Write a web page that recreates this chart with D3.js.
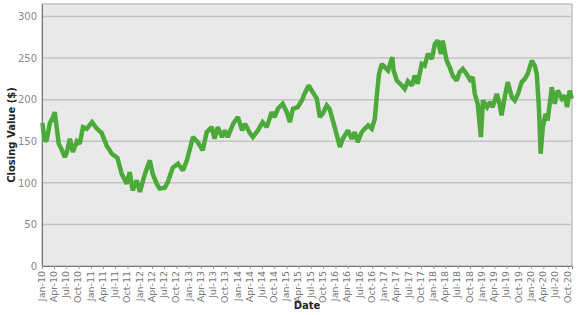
<!DOCTYPE html>
<html lang="en">
    <head>
        <meta charset="utf-8">
        <title>Closing Value</title>
        <script type="text/javascript" src="https://cdn.jsdelivr.net/npm/d3@7"></script>
        <style type="text/css">
            body { margin: 0; background: #fff; }
            text { font-family: "DejaVu Sans", Verdana, sans-serif; }
        </style>
    </head>
    <body>
        <script type="text/javascript">

            //Width and height
            var w = 577;
            var h = 315;
            var margin = { top: 4, right: 5, bottom: 49, left: 42 };

            //Readings of the closing value, roughly every few weeks
            var dates = [
                "2010-01-04","2010-01-15","2010-01-22","2010-02-06","2010-03-01","2010-03-22","2010-04-06","2010-04-22",
                "2010-05-06","2010-05-28","2010-06-20","2010-07-04","2010-07-28","2010-08-19","2010-09-19","2010-10-10",
                "2010-11-03","2010-12-01","2011-01-10","2011-02-15","2011-03-22","2011-04-28","2011-06-06","2011-07-18",
                "2011-08-19","2011-09-25","2011-10-18","2011-11-09","2011-12-09","2012-01-02","2012-02-09","2012-03-16",
                "2012-04-06","2012-05-06","2012-05-28","2012-07-06","2012-07-28","2012-09-03","2012-10-12","2012-11-18",
                "2012-12-18","2013-02-01","2013-03-09","2013-04-15","2013-05-15","2013-06-21","2013-07-12","2013-08-06",
                "2013-09-06","2013-09-28","2013-10-19","2013-11-28","2014-01-03","2014-02-03","2014-02-25","2014-04-01",
                "2014-04-24","2014-06-01","2014-07-06","2014-08-06","2014-09-12","2014-10-03","2014-10-28","2014-12-03",
                "2015-01-03","2015-01-25","2015-02-18","2015-03-25","2015-04-25","2015-05-15","2015-06-15","2015-07-15",
                "2015-08-15","2015-09-06","2015-09-28","2015-10-28","2015-11-18","2015-12-12","2016-01-12","2016-02-03",
                "2016-02-25","2016-04-03","2016-05-01","2016-05-24","2016-06-15","2016-07-15","2016-08-06","2016-09-01",
                "2016-09-28","2016-10-21","2016-11-06","2016-11-21","2016-12-12","2017-01-03","2017-01-28","2017-02-28",
                "2017-03-10","2017-04-03","2017-05-10","2017-06-01","2017-06-25","2017-07-25","2017-08-15","2017-09-06",
                "2017-10-06","2017-10-28","2017-11-21","2017-12-21","2018-01-12","2018-02-03","2018-02-27","2018-03-12",
                "2018-04-10","2018-05-03","2018-05-25","2018-06-25","2018-07-15","2018-08-09","2018-09-06","2018-10-01",
                "2018-10-22","2018-11-06","2018-11-28","2018-12-22","2019-01-06","2019-02-06","2019-02-28","2019-03-20",
                "2019-04-20","2019-05-10","2019-05-25","2019-06-18","2019-07-10","2019-08-10","2019-09-01","2019-09-25",
                "2019-10-22","2019-11-15","2019-12-06","2020-01-06","2020-01-28","2020-02-12","2020-02-28","2020-03-12",
                "2020-03-28","2020-04-18","2020-05-03","2020-06-03","2020-06-25","2020-07-18","2020-08-18","2020-09-09",
                "2020-09-25","2020-10-15","2020-10-30"
            ];
            var closes = [
                172, 158, 150, 152, 172, 178, 185, 165,
                147, 140, 131, 136, 153, 137, 150, 147,
                167, 165, 173, 165, 160, 145, 135, 130,
                111, 99, 113, 91, 103, 89, 111, 127,
                111, 99, 93, 94, 101, 118, 123, 115,
                127, 155, 149, 139, 161, 167, 153, 167,
                155, 163, 155, 171, 179, 163, 171, 160,
                155, 163, 173, 167, 185, 179, 189, 195,
                185, 173, 189, 191, 199, 207, 217, 209,
                201, 179, 183, 193, 189, 175, 157, 143,
                153, 163, 153, 161, 149, 161, 165, 169,
                165, 177, 207, 231, 243, 239, 235, 251,
                235, 223, 217, 213, 222, 217, 229, 219,
                243, 241, 255, 249, 267, 271, 255, 271,
                247, 239, 229, 223, 233, 237, 231, 224,
                227, 207, 195, 155, 199, 191, 197, 191,
                207, 195, 181, 203, 221, 203, 199, 207,
                221, 225, 231, 247, 241, 231, 191, 135,
                167, 183, 175, 215, 195, 211, 201, 205,
                191, 211, 201
            ];

            var yTicks = [0, 50, 100, 150, 200, 250, 300];

            var parse = d3.timeParse("%Y-%m-%d");
            var series = dates.map(function(d, i) {
                return { date: parse(d), value: closes[i] };
            });

            var svg = d3.select("body")
                        .append("svg")
                        .attr("width", w)
                        .attr("height", h);

            var x = d3.scaleTime()
                      .domain([new Date(2010, 0, 1), new Date(2020, 10, 1)])
                      .range([margin.left, w - margin.right]);

            var y = d3.scaleLinear()
                      .domain([0, 315])
                      .range([h - margin.bottom, margin.top]);

            //Plot background
            svg.append("rect")
               .attr("x", margin.left)
               .attr("y", margin.top)
               .attr("width", w - margin.left - margin.right)
               .attr("height", h - margin.top - margin.bottom)
               .attr("fill", "#e9e9e9")
               .attr("stroke", "#a8a8a8")
               .attr("stroke-width", 1);

            //Grid lines
            svg.append("g")
               .selectAll("line")
               .data(yTicks.slice(1))
               .enter()
               .append("line")
               .attr("x1", margin.left)
               .attr("x2", w - margin.right)
               .attr("y1", function(d) { return y(d); })
               .attr("y2", function(d) { return y(d); })
               .style("stroke", "#c4c4c4")
               .style("stroke-width", 1.5);

            //Y axis
            var yAxis = svg.append("g")
               .attr("transform", "translate(" + margin.left + ",0)")
               .call(d3.axisLeft(y).tickValues(yTicks).tickSize(0).tickPadding(5));
            yAxis.select(".domain").attr("stroke", "#777");
            yAxis.selectAll("text")
                 .attr("fill", "#888")
                 .attr("font-size", "10px");

            //X axis
            var xAxis = svg.append("g")
               .attr("transform", "translate(0," + (h - margin.bottom) + ")")
               .call(d3.axisBottom(x)
                       .ticks(d3.timeMonth.every(3))
                       .tickFormat(d3.timeFormat("%b-%y"))
                       .tickSize(3));
            xAxis.select(".domain").attr("stroke", "#777");
            xAxis.selectAll("line").attr("stroke", "#999");
            xAxis.selectAll("text")
                 .attr("fill", "#777")
                 .attr("font-size", "9.5px")
                 .attr("text-anchor", "end")
                 .attr("transform", "rotate(-90)")
                 .attr("x", -5)
                 .attr("y", -1)
                 .attr("dy", "0.35em");

            //The line
            var line = d3.line()
                         .x(function(d) { return x(d.date); })
                         .y(function(d) { return y(d.value); });

            svg.append("path")
               .datum(series)
               .attr("d", line)
               .attr("fill", "none")
               .attr("stroke", "#4caa3a")
               .attr("stroke-width", 4.5)
               .attr("stroke-linejoin", "miter")
               .attr("stroke-miterlimit", 2);

            //Axis titles
            svg.append("text")
               .text("Closing Value ($)")
               .attr("transform", "translate(15," + ((margin.top + h - margin.bottom) / 2) + ") rotate(-90)")
               .attr("text-anchor", "middle")
               .attr("font-size", "10px")
               .attr("font-weight", "bold")
               .attr("fill", "#222");

            svg.append("text")
               .text("Date")
               .attr("x", (margin.left + w - margin.right) / 2)
               .attr("y", h - 6)
               .attr("text-anchor", "middle")
               .attr("font-size", "10px")
               .attr("font-weight", "bold")
               .attr("fill", "#222");

        </script>
    </body>
</html>
